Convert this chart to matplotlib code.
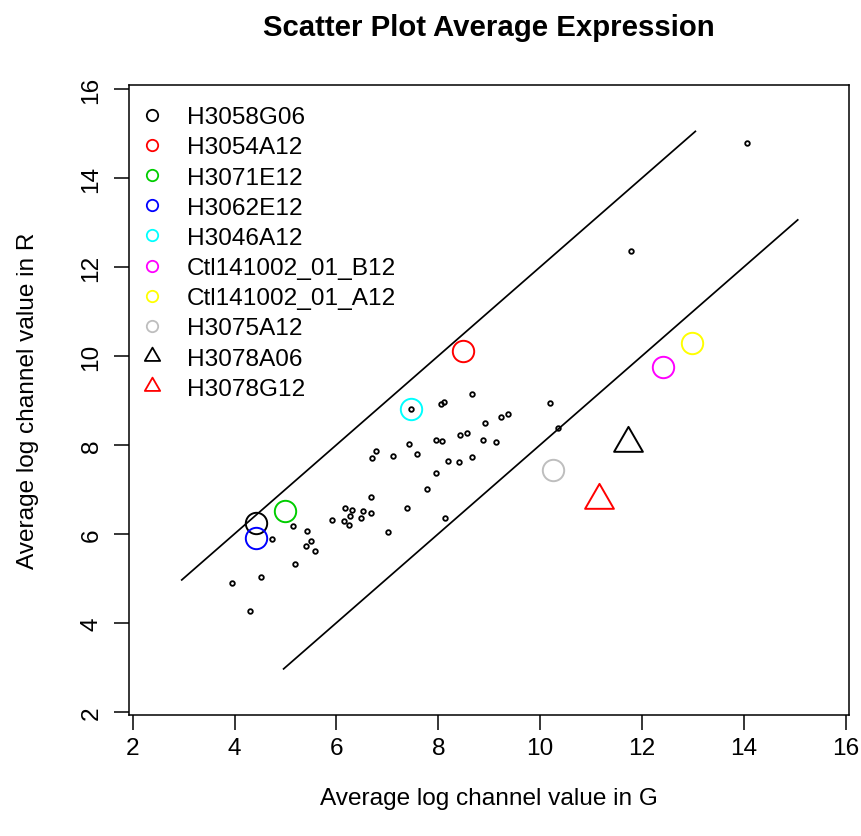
import matplotlib
matplotlib.use("Agg")
import matplotlib.pyplot as plt
from matplotlib.path import Path
from matplotlib.lines import Line2D

plt.rcParams['font.family'] = ['Liberation Sans', 'DejaVu Sans']

# ---- data ----
g_vals = [7.46, 8.05, 8.11, 7.43, 7.95, 8.08, 6.77, 6.70, 7.12, 7.58,
          8.19, 7.96, 7.78, 6.68, 6.17, 6.31, 6.53, 6.68, 6.27, 5.91,
          6.14, 6.48, 6.25, 7.39, 7.01, 8.13, 5.15, 5.42, 4.74, 5.51,
          5.40, 5.57, 5.19, 4.52, 3.95, 4.30, 8.66, 10.19, 10.35, 9.37,
          9.23, 8.92, 8.57, 8.43, 8.88, 9.14, 8.41, 8.66, 14.06, 11.78]
r_vals = [8.81, 8.91, 8.97, 8.03, 8.11, 8.08, 7.86, 7.70, 7.76, 7.79,
          7.64, 7.37, 7.01, 6.82, 6.59, 6.54, 6.51, 6.47, 6.39, 6.31,
          6.28, 6.35, 6.20, 6.58, 6.05, 6.36, 6.18, 6.06, 5.89, 5.83,
          5.72, 5.62, 5.33, 5.02, 4.90, 4.27, 9.14, 8.94, 8.38, 8.69,
          8.63, 8.49, 8.27, 8.21, 8.10, 8.07, 7.61, 7.72, 14.79, 12.35]

sample_names = ["H3058G06", "H3054A12", "H3071E12", "H3062E12", "H3046A12",
                "Ctl141002_01_B12", "Ctl141002_01_A12", "H3075A12",
                "H3078A06", "H3078G12"]
sample_g = [4.42, 8.49, 4.99, 4.43, 7.46, 12.41, 12.99, 10.25, 11.72, 11.16]
sample_r = [6.24, 10.11, 6.51, 5.91, 8.81, 9.76, 10.30, 7.43, 8.04, 6.75]
sample_colors = ["#000000", "#FF0000", "#00CD00", "#0000FF", "#00FFFF",
                 "#FF00FF", "#FFFF00", "#BEBEBE", "#000000", "#FF0000"]
sample_shapes = ["circle"] * 8 + ["triangle"] * 2

upper_x = [2.95, 13.06]
upper_y = [4.95, 15.06]
lower_x = [4.95, 15.07]
lower_y = [2.95, 13.07]

x_ticks = [2, 4, 6, 8, 10, 12, 14, 16]
y_ticks = [2, 4, 6, 8, 10, 12, 14, 16]

# R-style triangle (pch=2)
tri = Path([(0, 1.555), (1.347, -0.7776), (-1.347, -0.7776), (0, 1.555)],
           [Path.MOVETO, Path.LINETO, Path.LINETO, Path.CLOSEPOLY])

W, H = 862, 837
fig = plt.figure(figsize=(W / 100, H / 100), dpi=100)
ax = fig.add_axes([129 / W, 1 - 716 / H, (849.3 - 129) / W, (716 - 86) / H])
ax.set_xlim(1.927, 16.07)
ax.set_ylim(1.926, 16.09)

lw = 1.25
ax.plot(upper_x, upper_y, color='black', lw=lw, solid_capstyle='butt')
ax.plot(lower_x, lower_y, color='black', lw=lw, solid_capstyle='butt')

ax.plot(g_vals, r_vals, linestyle='none', marker='o', ms=3.3,
        mfc='none', mec='black', mew=1.3)

circ_ms = 15.4
for gx, ry, c, s in zip(sample_g, sample_r, sample_colors, sample_shapes):
    if s == "circle":
        ax.plot([gx], [ry], linestyle='none', marker='o', ms=circ_ms,
                mfc='none', mec=c, mew=1.4)
    else:
        ax.plot([gx], [ry], linestyle='none', marker=tri, ms=circ_ms * 1.555,
                mfc='none', mec=c, mew=1.4)

fs = 17.6
handles = []
for c, s in zip(sample_colors, sample_shapes):
    if s == "circle":
        handles.append(Line2D([], [], linestyle='none', marker='o', ms=8.2,
                              mfc='none', mec=c, mew=1.3))
    else:
        handles.append(Line2D([], [], linestyle='none', marker=tri,
                              ms=8.2 * 1.555, mfc='none', mec=c, mew=1.3))
leg = ax.legend(handles, sample_names, loc='upper left',
                bbox_to_anchor=(0.015, 0.9665), frameon=False,
                fontsize=fs, handlelength=1.0, handletextpad=0.92,
                labelspacing=0.33, borderaxespad=0, borderpad=0)

ax.set_xticks(x_ticks)
ax.set_yticks(y_ticks)
ax.tick_params(axis='both', direction='out', length=11, width=1.1,
               labelsize=fs, color='black')
ax.tick_params(axis='x', pad=4.7)
ax.tick_params(axis='y', pad=8)
for lab in ax.get_yticklabels():
    lab.set_rotation(90)
    lab.set_va('center')
for sp in ax.spines.values():
    sp.set_linewidth(1.1)

ax.set_xlabel("Average log channel value in G", fontsize=fs, va='center')
ax.xaxis.set_label_coords(0.5, -(799 - 716) / (716 - 86))
ax.set_ylabel("Average log channel value in R", fontsize=fs, va='center')
ax.yaxis.set_label_coords((28 - 129) / (849.3 - 129), 0.5)

fig.text(489 / W, 1 - 28 / H, "Scatter Plot Average Expression",
         fontsize=21.2, fontweight='bold', ha='center', va='center')

fig.savefig("out.png", dpi=100)
